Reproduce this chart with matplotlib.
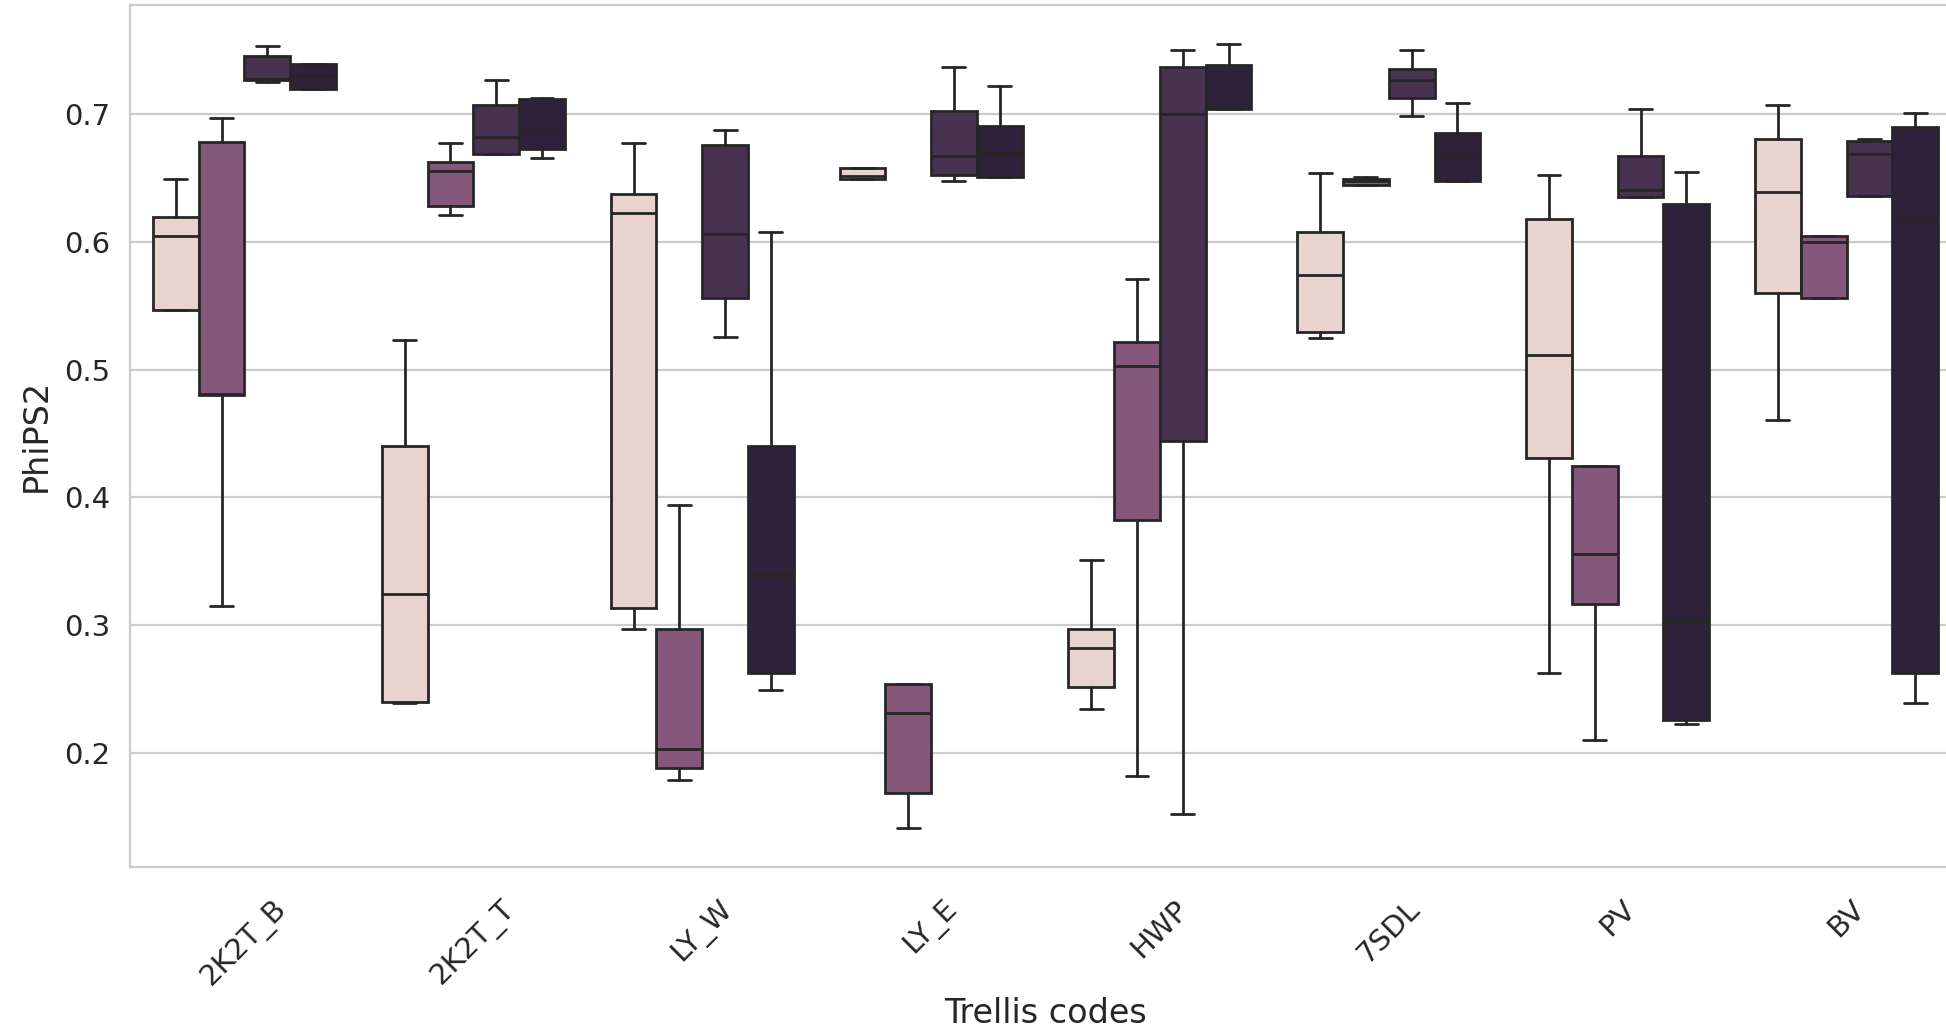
import matplotlib
matplotlib.use('Agg')
import matplotlib.pyplot as plt
import seaborn as sns

# trellis categories on the x axis
trellis = ['2K2T_B', '2K2T_T', 'LY_W', 'LY_E', 'HWP', '7SDL', 'PV', 'BV']

# box colours for the four hue levels (light -> dark)
hue_colors = ['#e8d3ce', '#85577a', '#473250', '#2f213a']

# box summary per hue level: lower whisker, q1, median, q3, upper whisker
lo_0 = [0.547, 0.239, 0.297, 0.6495, 0.2342, 0.5247, 0.2629, 0.4609]
q1_0 = [0.547, 0.240, 0.3135, 0.6495, 0.2517, 0.5294, 0.431, 0.5604]
md_0 = [0.605, 0.3246, 0.623, 0.6516, 0.282, 0.574, 0.5115, 0.6393]
q3_0 = [0.620, 0.440, 0.6375, 0.658, 0.2968, 0.6078, 0.6182, 0.6807]
hi_0 = [0.6495, 0.5234, 0.6776, 0.658, 0.351, 0.6542, 0.6523, 0.707]

lo_1 = [0.315, 0.621, 0.1789, 0.1413, 0.1819, 0.6445, 0.2103, 0.556]
q1_1 = [0.4805, 0.6284, 0.1878, 0.1686, 0.3822, 0.6445, 0.3168, 0.556]
md_1 = [0.481, 0.6555, 0.2028, 0.2314, 0.5026, 0.6477, 0.3558, 0.6003]
q3_1 = [0.678, 0.6628, 0.2968, 0.254, 0.5219, 0.6495, 0.425, 0.605]
hi_1 = [0.697, 0.6776, 0.394, 0.254, 0.5711, 0.6508, 0.425, 0.605]

lo_2 = [0.7255, 0.6688, 0.526, 0.6479, 0.1522, 0.6987, 0.6349, 0.636]
q1_2 = [0.7267, 0.6688, 0.556, 0.6523, 0.444, 0.713, 0.6349, 0.636]
md_2 = [0.728, 0.6826, 0.6065, 0.6674, 0.700, 0.7268, 0.6406, 0.669]
q3_2 = [0.746, 0.7073, 0.6763, 0.7029, 0.737, 0.7357, 0.6674, 0.6792]
hi_2 = [0.7532, 0.7268, 0.688, 0.737, 0.750, 0.7503, 0.7044, 0.6807]

lo_3 = [0.7195, 0.6659, 0.2492, 0.6508, 0.7044, 0.6477, 0.2225, 0.239]
q1_3 = [0.7195, 0.6727, 0.2626, 0.6508, 0.7044, 0.6477, 0.2261, 0.2626]
md_3 = [0.7304, 0.688, 0.339, 0.670, 0.7055, 0.6688, 0.3032, 0.6185]
q3_3 = [0.7397, 0.712, 0.440, 0.6909, 0.7385, 0.6852, 0.630, 0.6898]
hi_3 = [0.7397, 0.713, 0.6078, 0.7221, 0.7552, 0.7089, 0.6552, 0.7013]

groups = [
    (lo_0, q1_0, md_0, q3_0, hi_0),
    (lo_1, q1_1, md_1, q3_1, hi_1),
    (lo_2, q1_2, md_2, q3_2, hi_2),
    (lo_3, q1_3, md_3, q3_3, hi_3),
]

sns.set_style('whitegrid')
fig = plt.figure(figsize=(9.73, 5.17), dpi=200)
ax = fig.add_axes([0.0668, 0.1615, 0.9409, 0.834])

line_c = '#262626'
box_w = 0.2
for k, (lo, q1, md, q3, hi) in enumerate(groups):
    offset = (k - 1.5) * box_w
    stats = [dict(whislo=lo[i], q1=q1[i], med=md[i], q3=q3[i], whishi=hi[i], fliers=[])
             for i in range(len(trellis))]
    ax.bxp(stats, positions=[i + offset for i in range(len(trellis))],
           widths=box_w, capwidths=box_w / 2, patch_artist=True,
           showfliers=False, manage_ticks=False,
           boxprops=dict(facecolor=hue_colors[k], edgecolor=line_c, linewidth=1.0),
           medianprops=dict(color=line_c, linewidth=1.0),
           whiskerprops=dict(color=line_c, linewidth=1.0),
           capprops=dict(color=line_c, linewidth=1.0))

ax.set_xticks(range(len(trellis)))
ax.set_xticklabels(trellis, rotation=45)
ax.tick_params(axis='x', labelsize=10.5, pad=6.5)
ax.tick_params(axis='y', labelsize=10.5)
ax.set_xlim(-0.5, len(trellis) - 0.5)
ax.margins(y=0.05)
ax.xaxis.grid(False)
ax.set_xlabel('Trellis codes', fontsize=12, labelpad=2)
ax.set_ylabel('PhiPS2', fontsize=12)

fig.savefig('out.png', dpi=200)
